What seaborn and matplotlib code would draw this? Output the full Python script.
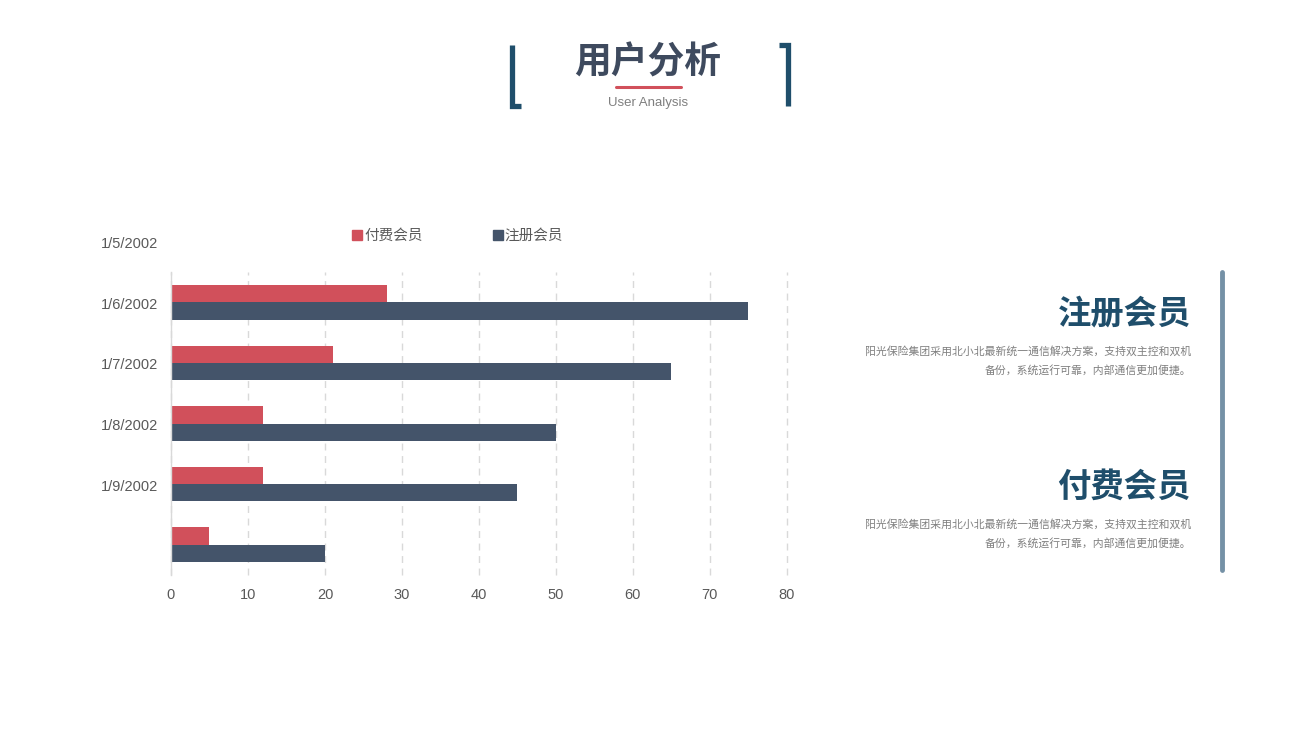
import pandas as pd
import matplotlib.pyplot as plt
import matplotlib.lines as mlines
import seaborn as sns

# data (top group first)
dates = ['1/5/2002', '1/6/2002', '1/7/2002', '1/8/2002', '1/9/2002']
groups = ['g1', 'g2', 'g3', 'g4', 'g5']
paid = [28, 21, 12, 12, 5]
registered = [75, 65, 50, 45, 20]
series_names = ['付费会员', '注册会员']
x_ticks = [0, 10, 20, 30, 40, 50, 60, 70, 80]

RED = '#D1505B'
NAVY = '#44546A'
DARK_BLUE = '#1F4E6B'
GRAY = '#595959'

df = pd.DataFrame({
    'group': groups * 2,
    'value': paid + registered,
    'series': [series_names[0]] * len(groups) + [series_names[1]] * len(groups),
})

sns.set_theme(style='white')
plt.rcParams['font.family'] = ['Noto Sans CJK SC', 'DejaVu Sans']

fig = plt.figure(figsize=(12.96, 7.29), dpi=100)
ax = fig.add_axes([0.1319, 0.2112, 0.4753, 0.4156])

sns.barplot(data=df, y='group', x='value', hue='series', orient='h',
            palette=[RED, NAVY], width=0.57, gap=0, saturation=1,
            errorbar=None, ax=ax, legend=False, linewidth=0)

ax.set_xlim(0, 80)
ax.set_ylim(len(groups) - 0.5, -0.5)
ax.set_xticks(x_ticks)
ax.set_xticklabels([str(t) for t in x_ticks], family=['Liberation Sans'],
                   fontsize=10.5, color=GRAY)
ax.set_xlabel('')
ax.set_ylabel('')
ax.set_yticks([])
ax.tick_params(axis='x', length=0, pad=9)
ax.xaxis.grid(True, linestyle=(0, (5, 4)), color='#D9D9D9', linewidth=1)
for gl in ax.get_xgridlines():
    gl.set_clip_on(False)
ax.set_axisbelow(True)
for s in ['top', 'right', 'bottom']:
    ax.spines[s].set_visible(False)
ax.spines['left'].set_color('#D9D9D9')
ax.spines['left'].set_linewidth(1)

# category labels sit one slot above their bars, as in the source
for i, d in enumerate(dates):
    ax.text(-1.6, i - 0.96, d, ha='right', va='center', fontsize=10.5,
            color=GRAY, family=['Liberation Sans'], clip_on=False)

# legend
handles = [mlines.Line2D([], [], marker='s', linestyle='', color=c, markersize=7)
           for c in [RED, NAVY]]
fig.legend(handles, series_names, loc='center', bbox_to_anchor=(0.353, 0.676),
           ncol=2, frameon=False, fontsize=10.5, labelcolor=GRAY,
           handletextpad=0.1, columnspacing=4.7, handlelength=0.8)

# header
fig.text(0.5, 0.914, '用户分析', ha='center', va='center', fontsize=26.5,
         fontweight='bold', color='#3E4A5E')
fig.text(0.5, 0.859, 'User Analysis', ha='center', va='center', fontsize=9.5,
         color='#7F7F7F', family=['Liberation Sans'])
fig.add_artist(mlines.Line2D([616 / 1296, 681 / 1296], [1 - 87 / 729] * 2,
                             color=RED, linewidth=2.2))
# brackets: left is an L, right is a mirrored hook
yb_top, yb_bot = 1 - 45 / 729, 1 - 106 / 729
fig.add_artist(mlines.Line2D([512 / 1296, 512 / 1296, 521 / 1296],
                             [yb_top, yb_bot, yb_bot], color=DARK_BLUE,
                             linewidth=3.8, solid_joinstyle='miter',
                             solid_capstyle='butt'))
fig.add_artist(mlines.Line2D([779 / 1296, 788 / 1296, 788 / 1296],
                             [yb_top, yb_top, yb_bot], color=DARK_BLUE,
                             linewidth=3.8, solid_joinstyle='miter',
                             solid_capstyle='butt'))

# right panel
fig.add_artist(mlines.Line2D([1222 / 1296] * 2, [1 - 272 / 729, 1 - 570 / 729],
                             color='#7591A6', linewidth=3.5))
body = ['阳光保险集团采用北小北最新统一通信解决方案，支持双主控和双机',
        '备份，系统运行可靠，内部通信更加便捷。']
for head, y in [('注册会员', 314), ('付费会员', 487)]:
    fig.text(1191 / 1296, 1 - y / 729, head, ha='right', va='center',
             fontsize=24, fontweight='bold', color=DARK_BLUE)
    for j, line in enumerate(body):
        fig.text(1191 / 1296, 1 - (y + 37 + 19 * j) / 729, line, ha='right',
                 va='center', fontsize=7.8, color='#7F7F7F')

plt.savefig('out.png', dpi=100)
